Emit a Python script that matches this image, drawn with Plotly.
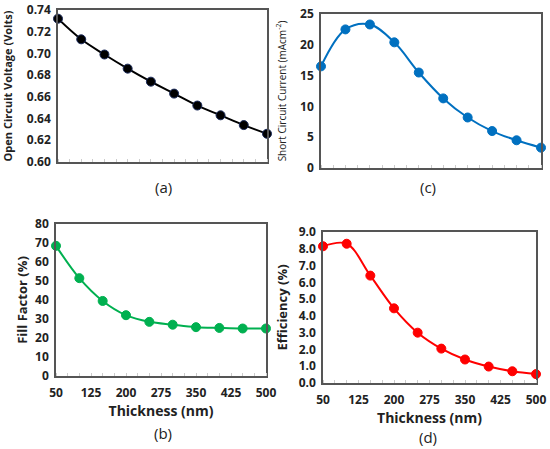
import plotly.graph_objects as go

thickness = [50, 100, 150, 200, 250, 300, 350, 400, 450, 500]
voc = [0.732, 0.713, 0.699, 0.686, 0.674, 0.663, 0.652, 0.643, 0.634, 0.626]
jsc = [16.5, 22.5, 23.3, 20.4, 15.5, 11.3, 8.2, 6.0, 4.5, 3.3]
ff = [68.5, 51.5, 39.5, 32.0, 28.5, 27.0, 25.7, 25.3, 25.0, 25.0]
eff = [8.15, 8.3, 6.4, 4.45, 3.0, 2.05, 1.4, 0.98, 0.7, 0.53]
x_ticks = [50, 125, 200, 275, 350, 425, 500]

W, H = 550, 449
def xd(a, b):
    return [a / W, b / W]
def yd(top, bot):
    return [1 - bot / H, 1 - top / H]

FONT = "Open Sans"
tickfont = dict(family=FONT, size=12, color="#222", weight="bold")

fig = go.Figure()
panels = [
    ("x", "y", voc, "#000000", xd(58, 267), yd(10, 162), [0.60, 0.74], 0.02, ".2f",
     "<b>Open Circuit Voltage (Volts)</b>", False, 11, 12),
    ("x2", "y2", jsc, "#0070C0", xd(321, 541), yd(14, 168), [0, 25], 5, "d",
     "Short Circuit Current (mAcm<sup>-2</sup>)", False, 10, 12),
    ("x3", "y3", ff, "#00B050", xd(56, 266), yd(224, 376), [0, 80], 10, "d",
     "<b>Fill Factor (%)</b>", True, 13, 5),
    ("x4", "y4", eff, "#FF0000", xd(323, 536), yd(232, 383), [0, 9], 1, ".1f",
     "<b>Efficiency (%)</b>", True, 13, 8),
]
for i, (xa, ya, vals, col, xdom, ydom, yr, dt, fmt, ytitle, showx, tsize, tstand) in enumerate(panels):
    fig.add_trace(go.Scatter(
        x=thickness, y=vals, xaxis=xa, yaxis=ya, mode="lines+markers",
        line=dict(color=col, width=2, shape="spline", smoothing=1.0),
        marker=dict(color=col, size=9, line=dict(color="#1a2a5a" if col == "#000000" else col, width=1)),
        cliponaxis=False, showlegend=False))
    sfx = "" if i == 0 else str(i + 1)
    fig.layout["xaxis" + sfx] = dict(
        domain=xdom, range=[50, 500], anchor=ya, tickvals=x_ticks, automargin=False,
        showticklabels=showx, ticks="", tickfont=tickfont, ticklabelstandoff=5,
        showline=True, linecolor="#555", linewidth=1.5, mirror=True,
        showgrid=False, zeroline=False,
        minor=dict(ticks="inside", ticklen=3, tickcolor="#ccc", dtick=25, tick0=50),
        title=dict(text="<b>Thickness (nm)</b>" if showx else "",
                   font=dict(family=FONT, size=14, color="#222"), standoff=2))
    fig.layout["yaxis" + sfx] = dict(
        domain=ydom, range=yr, anchor=xa, dtick=dt, tick0=0, tickformat=fmt,
        automargin=False, ticklabelstandoff=3,
        tickfont=tickfont, ticks="", showline=True, linecolor="#555", linewidth=1.5,
        mirror=True, showgrid=False, zeroline=False,
        title=dict(text=ytitle, font=dict(family=FONT, size=tsize, color="#222"),
                   standoff=tstand))

labels = [("(a)", 163, 187), ("(c)", 428, 187), ("(b)", 163, 433), ("(d)", 428, 437)]
for t, px, py in labels:
    fig.add_annotation(text=t, x=px / W, y=1 - py / H, xref="paper", yref="paper",
                       xanchor="center", yanchor="middle",
                       showarrow=False, font=dict(family=FONT, size=15, color="#222"))

fig.update_layout(width=W, height=H, margin=dict(l=0, r=0, t=0, b=0),
                  plot_bgcolor="white", paper_bgcolor="white")
fig.write_html("out.html", config={"displayModeBar": False},
               post_script="document.body.style.margin='0';")
